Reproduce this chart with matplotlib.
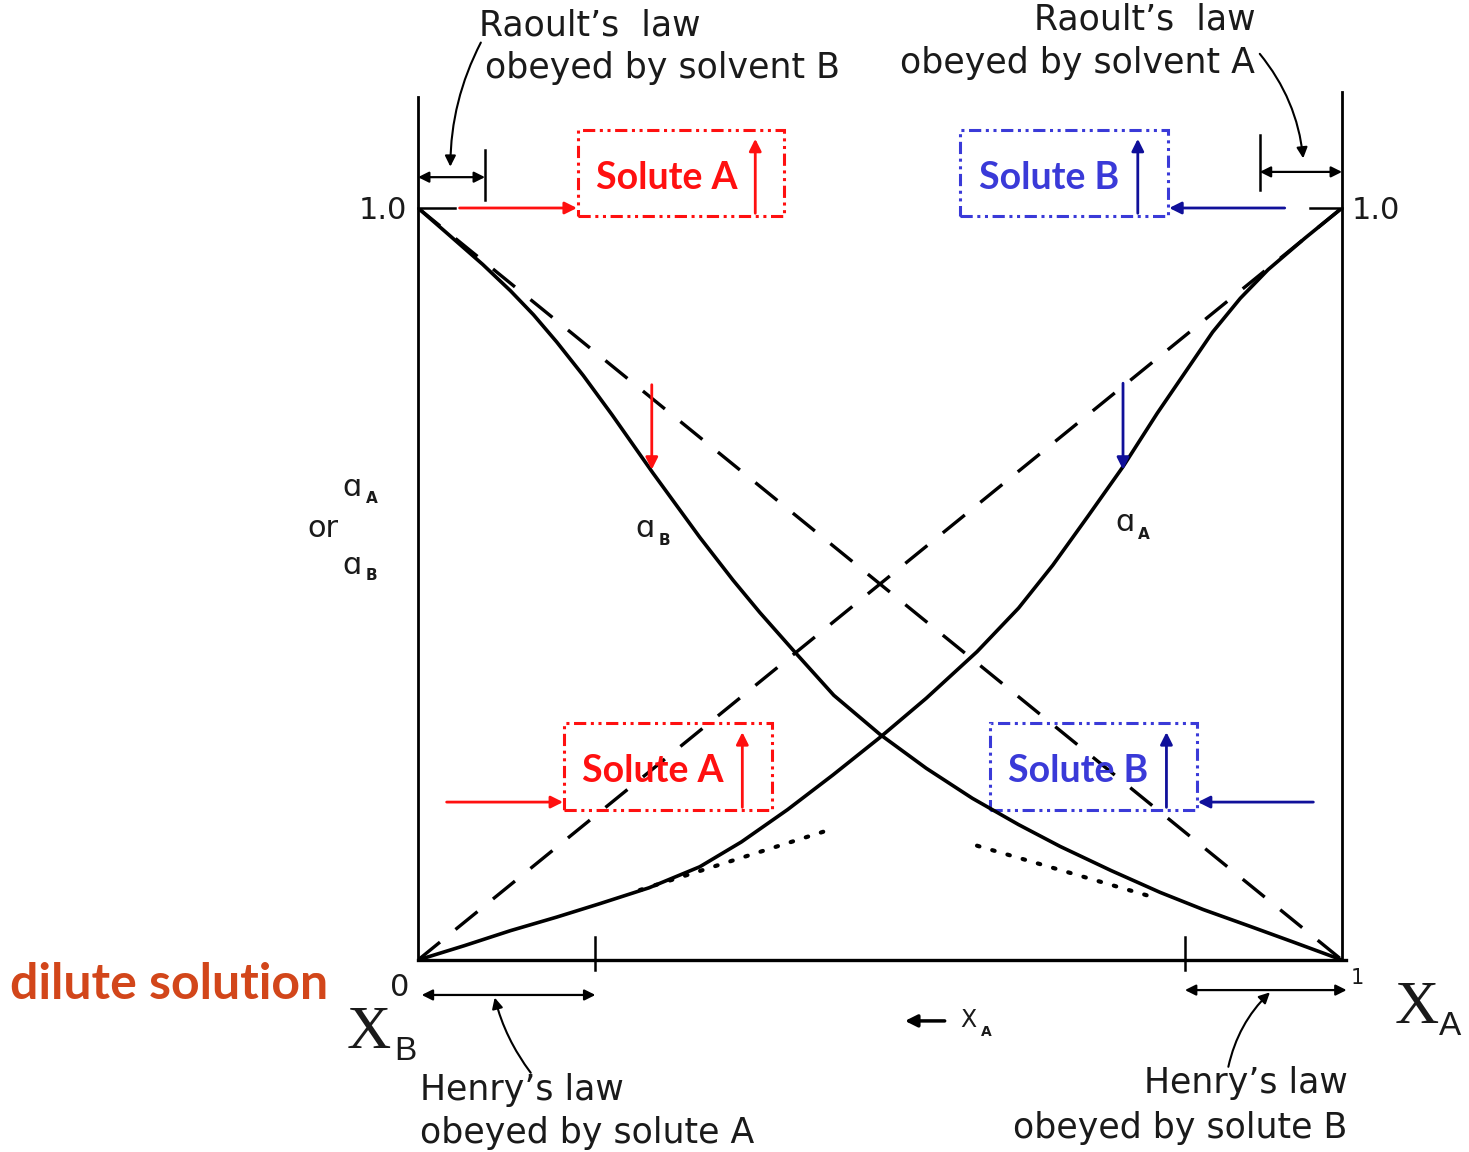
import matplotlib.pyplot as plt
from matplotlib.patches import Rectangle

# activity curves (x = mole fraction of A)
xa_A = [0.0, 0.05, 0.1, 0.15, 0.197, 0.25, 0.305, 0.35, 0.4, 0.449, 0.5,
        0.55, 0.605, 0.65, 0.687, 0.725, 0.763, 0.8, 0.83, 0.86, 0.89,
        0.92, 0.96, 1.0]
a_A = [0.0, 0.019, 0.039, 0.057, 0.075, 0.096, 0.124, 0.157, 0.2, 0.246,
       0.296, 0.348, 0.41, 0.468, 0.525, 0.59, 0.656, 0.727, 0.781, 0.835,
       0.88, 0.918, 0.96, 1.0]

xa_B = [0.0, 0.03, 0.07, 0.1, 0.125, 0.15, 0.179, 0.21, 0.254, 0.305, 0.341,
        0.37, 0.406, 0.45, 0.5, 0.55, 0.6, 0.65, 0.695, 0.75, 0.803, 0.85,
        0.9, 0.947, 1.0]
a_B = [1.0, 0.968, 0.925, 0.89, 0.858, 0.822, 0.777, 0.725, 0.648, 0.562,
       0.505, 0.462, 0.412, 0.352, 0.3, 0.255, 0.215, 0.18, 0.151, 0.119,
       0.09, 0.067, 0.045, 0.024, 0.0]

# Raoult's law lines
raoult_x = [0.0, 1.0]
raoult_A = [0.0, 1.0]
raoult_B = [1.0, 0.0]

# Henry's law segments (dotted)
henry_A_x = [0.24, 0.45]
henry_A_y = [0.093, 0.175]
henry_B_x = [0.605, 0.80]
henry_B_y = [0.152, 0.082]

RED = '#ff1010'
BLUE_BOX = '#3a3ad8'
NAVY = '#10109a'
TXT = '#1a1a1a'

fig = plt.figure(figsize=(14.69, 11.52), dpi=100)
ax = fig.add_axes([418 / 1469, 192 / 1152, 924 / 1469, 752 / 1152])
ax.set_xlim(0, 1)
ax.set_ylim(0, 1)
ax.axis('off')

# frame
ax.plot([0, 0], [0, 1.148], color='k', lw=2.0, clip_on=False)
ax.plot([1, 1], [0, 1.154], color='k', lw=2.0, clip_on=False)
ax.plot([0, 1.004], [0, 0], color='k', lw=2.4, clip_on=False)

# ticks
ax.plot([0, 0.04], [1.0, 1.0], color='k', lw=1.8, clip_on=False)
ax.plot([0.965, 1.0], [1.0, 1.0], color='k', lw=1.8, clip_on=False)
for xt in (0.192, 0.83):
    ax.plot([xt, xt], [-0.013, 0.031], color='k', lw=1.8, clip_on=False)

# curves
ax.plot(xa_A, a_A, color='k', lw=2.6, solid_joinstyle='round')
ax.plot(xa_B, a_B, color='k', lw=2.6, solid_joinstyle='round')
ax.plot(raoult_x, raoult_A, color='k', lw=2.4, linestyle=(0, (8.5, 6)))
ax.plot(raoult_x, raoult_B, color='k', lw=2.4, linestyle=(0, (8.5, 6)))
ax.plot(henry_A_x, henry_A_y, color='k', lw=3, linestyle=(0, (0.6, 3.2)),
        dash_capstyle='round')
ax.plot(henry_B_x, henry_B_y, color='k', lw=3, linestyle=(0, (0.6, 3.2)),
        dash_capstyle='round')

# tick labels
lab = dict(fontsize=22, color=TXT, family='DejaVu Sans', clip_on=False)
ax.text(-0.012, 0.997, '1.0', ha='right', va='center', **lab)
ax.text(1.011, 0.997, '1.0', ha='left', va='center', **lab)
ax.text(-0.02, -0.036, '0', ha='center', va='center', **lab)
ax.text(1.017, -0.024, '1', ha='center', va='center', fontsize=15,
        color=TXT, clip_on=False)

# y label
ax.text(-0.071, 0.628, 'ɑ', ha='center', va='center', **lab)
ax.text(-0.05, 0.614, 'A', ha='center', va='center', fontsize=11,
        fontweight='bold', color=TXT, clip_on=False)
ax.text(-0.103, 0.574, 'or', ha='center', va='center', **lab)
ax.text(-0.071, 0.525, 'ɑ', ha='center', va='center', **lab)
ax.text(-0.05, 0.511, 'B', ha='center', va='center', fontsize=11,
        fontweight='bold', color=TXT, clip_on=False)

# curve labels
ax.text(0.246, 0.574, 'ɑ', ha='center', va='center', **lab)
ax.text(0.267, 0.558, 'B', ha='center', va='center', fontsize=11,
        fontweight='bold', color=TXT)
ax.text(0.765, 0.582, 'ɑ', ha='center', va='center', **lab)
ax.text(0.785, 0.566, 'A', ha='center', va='center', fontsize=11,
        fontweight='bold', color=TXT)

# Raoult's law annotations (top)
note = dict(fontsize=25, color=TXT, family='DejaVu Sans', clip_on=False)
ax.text(0.186, 1.243, 'Raoult’s  law', ha='center', va='center', **note)
ax.text(0.072, 1.186, 'obeyed by solvent B', ha='left', va='center', **note)
ax.text(0.906, 1.250, 'Raoult’s  law', ha='right', va='center', **note)
ax.text(0.906, 1.193, 'obeyed by solvent A', ha='right', va='center', **note)

dbl = dict(arrowstyle='<|-|>', mutation_scale=16, lw=1.6, color='k',
           shrinkA=0, shrinkB=0)
ax.annotate('', xy=(0.0, 1.041), xytext=(0.0725, 1.041),
            arrowprops=dbl, annotation_clip=False)
ax.plot([0.0725, 0.0725], [1.011, 1.077], color='k', lw=1.8, clip_on=False)
ax.annotate('', xy=(1.0, 1.048), xytext=(0.911, 1.048),
            arrowprops=dbl, annotation_clip=False)
ax.plot([0.911, 0.911], [1.024, 1.097], color='k', lw=1.8, clip_on=False)

ax.annotate('', xy=(0.035, 1.055), xytext=(0.068, 1.22),
            arrowprops=dict(arrowstyle='-|>', mutation_scale=16, lw=1.5,
                            color='k', shrinkA=0, shrinkB=0,
                            connectionstyle='arc3,rad=0.12'),
            annotation_clip=False)
ax.annotate('', xy=(0.958, 1.066), xytext=(0.911, 1.205),
            arrowprops=dict(arrowstyle='-|>', mutation_scale=16, lw=1.5,
                            color='k', shrinkA=0, shrinkB=0,
                            connectionstyle='arc3,rad=-0.15'),
            annotation_clip=False)

# Henry's law annotations (bottom)
ax.annotate('', xy=(0.004, -0.0465), xytext=(0.192, -0.0465),
            arrowprops=dbl, annotation_clip=False)
ax.annotate('', xy=(1.005, -0.040), xytext=(0.83, -0.040),
            arrowprops=dbl, annotation_clip=False)
ax.text(0.002, -0.173, 'Henry’s law', ha='left', va='center', **note)
ax.text(0.002, -0.230, 'obeyed by solute A', ha='left', va='center', **note)
ax.text(1.006, -0.164, 'Henry’s law', ha='right', va='center', **note)
ax.text(1.006, -0.223, 'obeyed by solute B', ha='right', va='center', **note)
ax.annotate('', xy=(0.083, -0.05), xytext=(0.122, -0.150),
            arrowprops=dict(arrowstyle='-|>', mutation_scale=16, lw=1.5,
                            color='k', shrinkA=0, shrinkB=0,
                            connectionstyle='arc3,rad=-0.1'),
            annotation_clip=False)
ax.annotate('', xy=(0.922, -0.043), xytext=(0.877, -0.142),
            arrowprops=dict(arrowstyle='-|>', mutation_scale=16, lw=1.5,
                            color='k', shrinkA=0, shrinkB=0,
                            connectionstyle='arc3,rad=-0.15'),
            annotation_clip=False)

# x axis labels
ax.annotate('', xy=(0.527, -0.081), xytext=(0.57, -0.081),
            arrowprops=dict(arrowstyle='-|>', mutation_scale=18, lw=2.5,
                            color='k', shrinkA=0, shrinkB=0),
            annotation_clip=False)
ax.text(0.596, -0.080, 'X', ha='center', va='center', fontsize=17,
        color=TXT, clip_on=False)
ax.text(0.615, -0.096, 'A', ha='center', va='center', fontsize=10,
        fontweight='bold', color=TXT, clip_on=False)

ax.text(-0.053, -0.097, 'X', ha='center', va='center', fontsize=44,
        family='Liberation Serif', color=TXT, clip_on=False)
ax.text(-0.014, -0.122, 'B', ha='center', va='center', fontsize=24,
        family='Liberation Sans', color=TXT, clip_on=False)
ax.text(1.081, -0.064, 'X', ha='center', va='center', fontsize=44,
        family='Liberation Serif', color=TXT, clip_on=False)
ax.text(1.117, -0.089, 'A', ha='center', va='center', fontsize=24,
        family='Liberation Sans', color=TXT, clip_on=False)

ax.text(-0.4416, -0.033, 'dilute solution', ha='left', va='center',
        fontsize=36, fontweight='bold', family='Lato', color='#d2461a',
        clip_on=False)

# highlighted solute boxes
boxes = [
    # (x0, x1, y0, y1, label, box colour, text colour, arrow colour, arrow x, side arrow from, side arrow to)
    (0.173, 0.396, 0.989, 1.104, 'Solute A', RED, RED, RED, 0.365, 0.045, 0.172),
    (0.587, 0.812, 0.989, 1.104, 'Solute B', BLUE_BOX, BLUE_BOX, NAVY, 0.779, 0.938, 0.813),
    (0.158, 0.383, 0.199, 0.315, 'Solute A', RED, RED, RED, 0.351, 0.031, 0.157),
    (0.619, 0.843, 0.199, 0.315, 'Solute B', BLUE_BOX, BLUE_BOX, NAVY, 0.81, 0.969, 0.844),
]
for x0, x1, y0, y1, text, bc, tc, ac, xarr, s0, s1 in boxes:
    ax.add_patch(Rectangle((x0, y0), x1 - x0, y1 - y0, fill=False,
                           edgecolor=bc, lw=2.2,
                           linestyle=(0, (4, 1.5, 1, 1.5, 1, 1.5)),
                           clip_on=False))
    ax.text((x0 + xarr) / 2, (y0 + y1) / 2 - 0.006, text, ha='center',
            va='center', fontsize=27, fontweight='bold', family='Lato',
            color=tc, clip_on=False)
    ax.annotate('', xy=(xarr, y1 - 0.012), xytext=(xarr, y0 + 0.004),
                arrowprops=dict(arrowstyle='-|>', mutation_scale=18, lw=2,
                                color=ac, shrinkA=0, shrinkB=0),
                annotation_clip=False)
    yside = y0 + 0.011
    ax.annotate('', xy=(s1, yside), xytext=(s0, yside),
                arrowprops=dict(arrowstyle='-|>', mutation_scale=18, lw=2,
                                color=ac, shrinkA=0, shrinkB=0),
                annotation_clip=False)

# deviation arrows from Raoult's line to the curves
ax.annotate('', xy=(0.253, 0.652), xytext=(0.253, 0.765),
            arrowprops=dict(arrowstyle='-|>', mutation_scale=18, lw=2,
                            color=RED, shrinkA=0, shrinkB=0))
ax.annotate('', xy=(0.763, 0.652), xytext=(0.763, 0.767),
            arrowprops=dict(arrowstyle='-|>', mutation_scale=18, lw=2,
                            color=NAVY, shrinkA=0, shrinkB=0))

fig.savefig('out.png', dpi=100, facecolor='white')
